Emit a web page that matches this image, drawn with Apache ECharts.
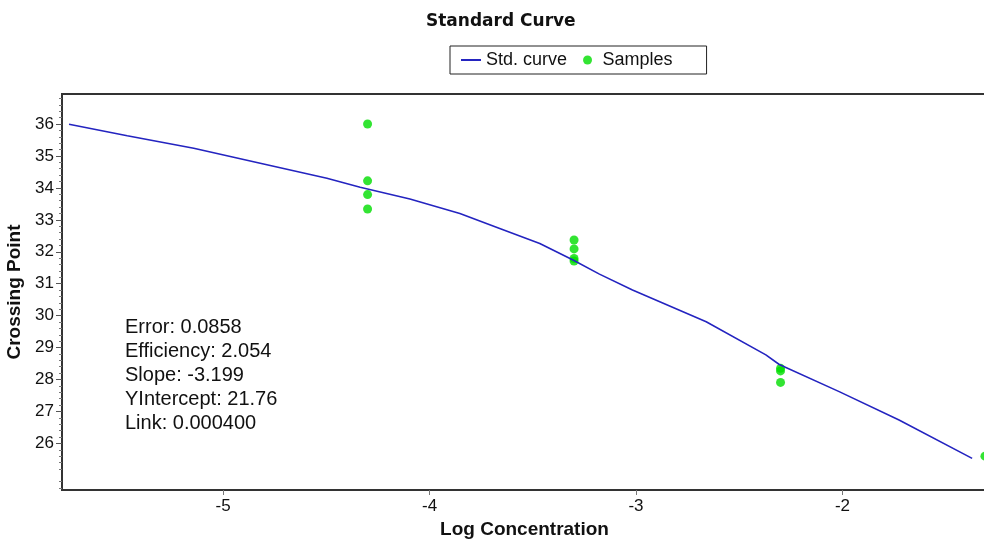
<!DOCTYPE html>
<html>
<head>
<meta charset="utf-8">
<script src="https://cdn.jsdelivr.net/npm/echarts@6/dist/echarts.min.js"></script>
<style>
  html, body { margin: 0; padding: 0; background: #fff; }
  #main { width: 984px; height: 540px; }
</style>
</head>
<body>
<div id="main"></div>
<script>
// std curve (log conc -> crossing point)
const curveX = [-5.746, -5.464, -5.142, -4.820, -4.497, -4.336, -4.095, -3.853, -3.660, -3.466, -3.305, -3.177, -3.017, -2.660, -2.371, -2.306, -2.016, -1.726, -1.372];
const curveY = [35.99, 35.63, 35.24, 34.77, 34.30, 34.02, 33.65, 33.20, 32.73, 32.26, 31.74, 31.30, 30.80, 29.81, 28.77, 28.47, 27.62, 26.73, 25.53];

// samples
const sampleX = [-4.30, -4.30, -4.30, -4.30, -3.30, -3.30, -3.30, -3.30, -2.30, -2.30, -2.30, -1.31];
const sampleY = [36.00, 34.22, 33.79, 33.34, 32.37, 32.09, 31.79, 31.71, 28.35, 28.27, 27.91, 25.60];

// tick labels
const xTicks = [-5, -4, -3, -2];
const yTicks = [26, 27, 28, 29, 30, 31, 32, 33, 34, 35, 36];

const statLines = ['Error: 0.0858', 'Efficiency: 2.054', 'Slope: -3.199', 'YIntercept: 21.76', 'Link: 0.000400'];

const yMin = 24.54, yMax = 36.94;
const FONT = '"Liberation Sans", Arial, Helvetica, sans-serif';

// minor ticks every 0.2 on the y axis
let yMinor = [];
for (let v = 246; v <= 369; v += 2) {
  if (v % 10 !== 0) yMinor.push(v / 10);
}

const chart = echarts.init(document.getElementById('main'));
chart.setOption({
  backgroundColor: '#fff',
  animation: false,
  title: [{
    text: 'Standard Curve',
    left: 421,
    top: 8,
    textStyle: { fontFamily: '"DejaVu Sans"', fontSize: 17, fontWeight: 'bold', color: '#111' }
  }, {
    text: statLines.join('\n'),
    left: 120,
    top: 310,
    textStyle: { fontFamily: FONT, fontSize: 20, fontWeight: 'normal', color: '#111', lineHeight: 24 }
  }],
  legend: {
    left: 450,
    top: 46,
    padding: [5, 34, 5, 10],
    borderColor: '#222',
    borderWidth: 1,
    itemWidth: 20,
    itemHeight: 9,
    itemGap: 16,
    textStyle: { fontFamily: FONT, fontSize: 18, color: '#111' },
    data: [
      { name: 'Std. curve', itemStyle: { opacity: 0 } },
      { name: 'Samples', icon: 'circle' }
    ]
  },
  grid: {
    left: 62,
    right: -3,
    top: 94,
    bottom: 50,
    outerBoundsMode: 'none',
    show: true,
    borderColor: '#333',
    borderWidth: 2,
    backgroundColor: '#fff'
  },
  xAxis: {
    type: 'value',
    min: -5.78,
    max: -1.30,
    name: 'Log Concentration',
    nameLocation: 'middle',
    nameGap: 30,
    nameTextStyle: { fontFamily: FONT, fontSize: 19, fontWeight: 'bold', color: '#111' },
    axisLine: { show: true, lineStyle: { color: '#333', width: 2 } },
    axisTick: { show: true, customValues: xTicks, length: 5, lineStyle: { color: '#777' } },
    axisLabel: { customValues: xTicks, margin: 8, fontFamily: FONT, fontSize: 17, color: '#111' },
    splitLine: { show: false }
  },
  yAxis: [{
    type: 'value',
    min: yMin,
    max: yMax,
    name: 'Crossing Point',
    nameLocation: 'middle',
    nameRotate: 90,
    nameGap: 26,
    nameTextStyle: { fontFamily: FONT, fontSize: 19, fontWeight: 'bold', color: '#111' },
    axisLine: { show: true, lineStyle: { color: '#333', width: 2 } },
    axisTick: { show: true, customValues: yTicks, length: 6, lineStyle: { color: '#555' } },
    axisLabel: { customValues: yTicks, margin: 8, fontFamily: FONT, fontSize: 17, color: '#111' },
    splitLine: { show: false }
  }, {
    type: 'value',
    min: yMin,
    max: yMax,
    position: 'left',
    axisLine: { show: false },
    axisTick: { show: true, customValues: yMinor, length: 3, lineStyle: { color: '#777' } },
    axisLabel: { show: false },
    splitLine: { show: false }
  }],
  series: [{
    name: 'Std. curve',
    type: 'line',
    symbol: 'none',
    lineStyle: { color: '#2424c0', width: 1.6 },
    itemStyle: { color: '#2424c0' },
    data: curveX.map((x, i) => [x, curveY[i]])
  }, {
    name: 'Samples',
    type: 'scatter',
    symbol: 'circle',
    symbolSize: 9,
    clip: false,
    itemStyle: { color: '#00dd00' },
    data: sampleX.map((x, i) => [x, sampleY[i]])
  }]
});
</script>
</body>
</html>
